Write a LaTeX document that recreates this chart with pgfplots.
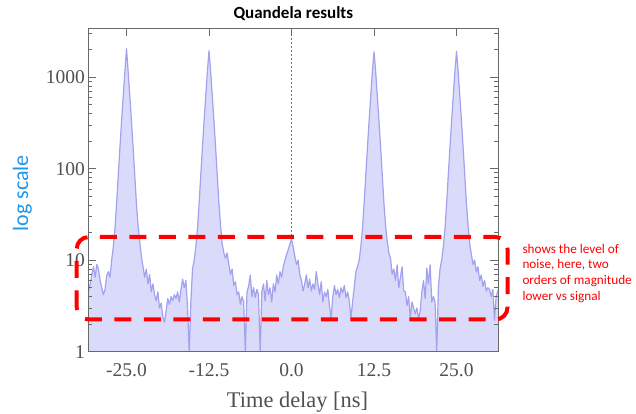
\documentclass[border=0pt]{standalone}
\usepackage{fontspec}
\setmainfont{Liberation Serif}
\newfontfamily\calibri{Carlito}
\usepackage{pgfplots}
\pgfplotsset{compat=1.18}
\usepackage{pgfplotstable}
\definecolor{fillc}{RGB}{218,218,250}
\definecolor{linec}{RGB}{162,162,238}
\definecolor{axgray}{RGB}{105,105,105}
\definecolor{lblgray}{RGB}{80,80,80}
\definecolor{skyblue}{RGB}{30,150,235}
\pgfplotstableread{
x y
-30.79 4.5
-30.5 5.5
-30.25 7
-30.0 8.5
-29.75 6.5
-29.5 9
-29.25 8
-29.0 6
-28.75 5
-28.5 4.2
-28.25 4.8
-28.0 6.8
-27.75 7.5
-27.5 6.5
-27.25 10
-27.0 14
-26.75 22
-26.5 42
-26.25 85
-26.0 170
-25.75 330
-25.5 620
-25.25 1150
-25.0 2050
-24.75 1150
-24.5 620
-24.25 330
-24.0 170
-23.75 85
-23.5 42
-23.25 24
-23.0 16
-22.75 11
-22.5 8.5
-22.25 6.5
-22.0 8
-21.75 5.5
-21.5 7
-21.25 4.5
-21.0 5.5
-20.75 4.2
-20.5 3.6
-20.25 4.5
-20.0 3.0
-19.75 3.4
-19.5 2.4
-19.25 2.1
-19.0 2.8
-18.75 3.8
-18.5 3.3
-18.25 4.0
-18.0 3.6
-17.75 4.2
-17.5 3.8
-17.25 4.5
-17.0 3.5
-16.75 4.8
-16.5 6.2
-16.25 5.0
-16.0 6.0
-15.75 3.0
-15.5 1.0
-15.25 3.5
-15.0 8
-14.75 10
-14.5 14
-14.25 22
-14.0 42
-13.75 85
-13.5 170
-13.25 330
-13.0 620
-12.75 1150
-12.5 1950
-12.25 1150
-12.0 620
-11.75 330
-11.5 170
-11.25 85
-11.0 42
-10.75 24
-10.5 15
-10.25 12
-10.0 10.5
-9.75 12
-9.5 9
-9.25 7
-9.0 8
-8.75 5.3
-8.5 5.8
-8.25 4.2
-8.0 4.5
-7.75 3.3
-7.5 4.0
-7.25 3.5
-7.0 1.0
-6.75 4.5
-6.5 5.2
-6.25 6.9
-6.0 4.0
-5.75 5.0
-5.5 3.9
-5.25 4.8
-5.0 4.2
-4.75 1.0
-4.5 4.5
-4.25 5.5
-4.0 3.6
-3.75 6.0
-3.5 4.2
-3.25 5.0
-3.0 3.5
-2.75 5.5
-2.5 4.5
-2.25 6.9
-2.0 5.5
-1.75 7.5
-1.5 6.5
-1.25 8.5
-1.0 10
-0.75 11.5
-0.5 13
-0.25 15
0.0 17
0.25 14
0.5 11
0.75 9
1.0 10
1.25 7
1.5 6
1.75 4.6
2.0 5.5
2.25 6.9
2.5 5
2.75 6.2
3.0 4.6
3.25 5.5
3.5 4.8
3.75 7.5
4.0 5.5
4.25 4.2
4.5 5.8
4.75 3.5
5.0 4.5
5.25 4.0
5.5 4.8
5.75 3.2
6.0 2.3
6.25 4.0
6.5 5.3
6.75 4.2
7.0 4.8
7.25 3.9
7.5 5.0
7.75 4.4
8.0 5.3
8.25 3.9
8.5 4.5
8.75 3.6
9.0 2.3
9.25 3.5
9.5 5
9.75 7.5
10.0 8.5
10.25 10
10.5 14
10.75 22
11.0 42
11.25 85
11.5 170
11.75 330
12.0 620
12.25 1150
12.5 1900
12.75 1150
13.0 620
13.25 330
13.5 170
13.75 85
14.0 42
14.25 24
14.5 16
14.75 12
15.0 10.5
15.25 7
15.5 8
15.75 6
16.0 8.9
16.25 5
16.5 6.5
16.75 8.5
17.0 4.6
17.25 4.5
17.5 3.2
17.75 4.0
18.0 2.3
18.25 3.5
18.5 3.0
18.75 2.6
19.0 3.0
19.25 2.3
19.5 2.8
19.75 4.5
20.0 6.0
20.25 3.8
20.5 8.2
20.75 5.5
21.0 8.9
21.25 3.5
21.5 4.0
21.75 3.5
22.0 1.0
22.25 5
22.5 8
22.75 10
23.0 14
23.25 22
23.5 42
23.75 85
24.0 170
24.25 330
24.5 620
24.75 1150
25.0 1920
25.25 1150
25.5 620
25.75 330
26.0 170
26.25 85
26.5 42
26.75 24
27.0 15
27.25 11.5
27.5 9
27.75 10
28.0 7.4
28.25 8.5
28.5 6.0
28.75 6.9
29.0 5.2
29.25 6.0
29.5 4.6
29.75 5.0
30.0 4.8
30.25 4.0
30.5 4.8
30.75 2.2
31.0 4.0
31.33 4.8
}\datatable

\begin{document}
\begin{tikzpicture}
\useasboundingbox (-88.3pt,-62.3pt) rectangle (547.7pt,351.7pt);
\begin{axis}[
  scale only axis, width=410pt, height=323.4pt,
  at={(0pt,0pt)}, anchor=south west,
  xmin=-30.79, xmax=31.33, ymode=log, ymin=1, ymax=3420,
  xtick={-25,-12.5,0,12.5,25}, xticklabels={-25.0,-12.5,0.0,12.5,25.0},
  xtick pos=upper, xticklabel pos=lower,
  ytick={1,10,100,1000}, yticklabels={1,10,100,1000},
  minor ytick={2,3,4,5,6,7,8,9,20,30,40,50,60,70,80,90,200,300,400,500,600,700,800,900,2000,3000},
  tick align=inside, major tick length=8pt, minor tick length=4pt,
  axis line style={axgray, line width=1.4pt},
  every tick/.style={axgray, line width=0.8pt},
  tick label style={lblgray, font=\fontsize{19.5}{20}\selectfont},
  xticklabel style={yshift=-8pt},
  axis on top,
]
\draw[gray!90!black, line width=1.1pt, dash pattern=on 1.5pt off 2.5pt] (axis cs:0,1) -- (axis cs:0,3420);
\addplot[fill=fillc, draw=none] table[x=x,y=y] {\datatable} \closedcycle;
\addplot[linec, line width=1.2pt, line join=round] table[x=x,y=y] {\datatable};
\end{axis}
\node[anchor=base, font=\calibri\bfseries\fontsize{17}{17}\selectfont] at (205pt,333.2pt) {Quandela results};
\node[rotate=90, font=\calibri\fontsize{22}{22}\selectfont, text=skyblue] at (-65.8pt,158.4pt) {log scale};
\node[anchor=base, text=lblgray, font=\fontsize{22.4}{23}\selectfont] at (209.2pt,-56.3pt) {Time delay [ns]};
\draw[red, line width=4pt, dash pattern=on 17pt off 12.5pt, rounded corners=12pt] (-11.6pt,32.2pt) rectangle (419.2pt,114.7pt);
\begin{scope}[every node/.style={anchor=base west, text=red, font=\calibri\fontsize{13.2}{14}\selectfont, inner sep=0pt}]
\node at (434pt,98.4pt) {shows the level of};
\node at (434pt,82.8pt) {noise, here, two};
\node at (434pt,67.2pt) {orders of magnitude};
\node at (434pt,51.6pt) {lower vs signal};
\end{scope}
\end{tikzpicture}
\end{document}
